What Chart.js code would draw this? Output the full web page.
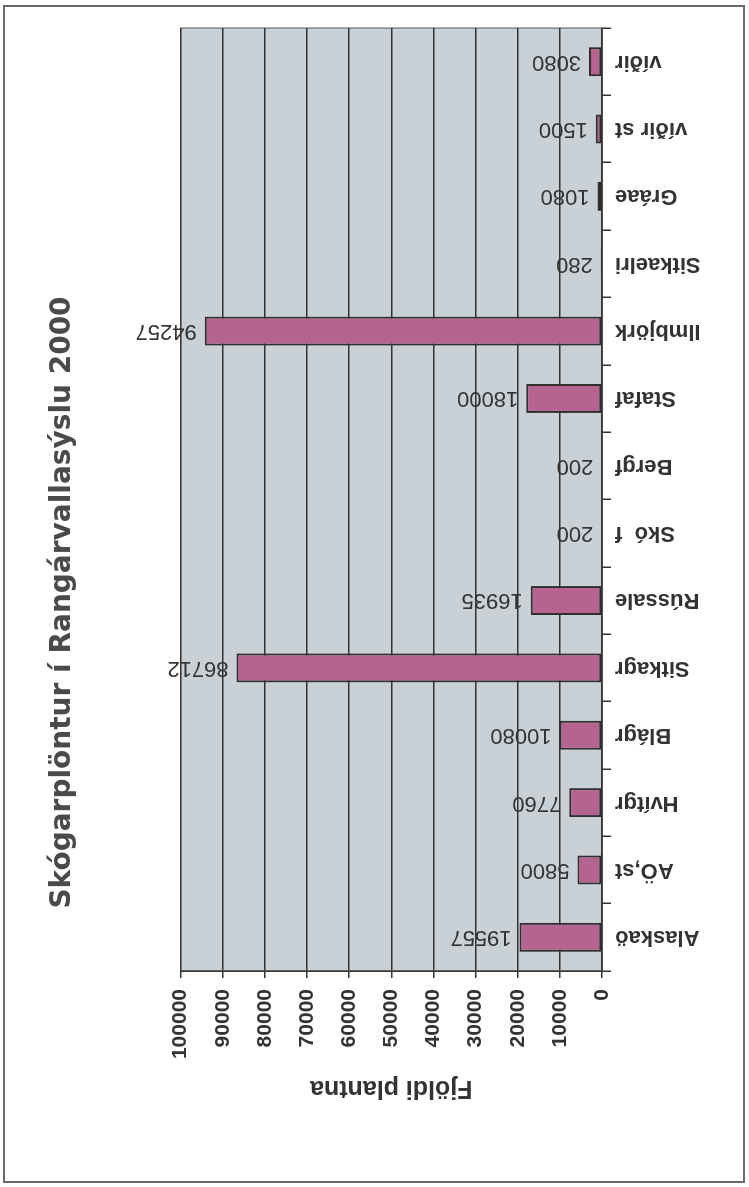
<!DOCTYPE html>
<html>
<head>
<meta charset="utf-8">
<script src="https://cdn.jsdelivr.net/npm/chart.js@4.4.0/dist/chart.umd.min.js"></script>
<style>
html, body { margin: 0; padding: 0; background: #fff; }
body { width: 749px; height: 1187px; position: relative; overflow: hidden; }
#marco { position: absolute; left: 3px; top: 5px; width: 738px; height: 1174px; border: 2px solid #6a6a6a; }
/* el gráfico está girado en la hoja escaneada: se dibuja derecho y se gira -90° */
#grafico { position: absolute; left: 0; top: 0; transform-origin: 0 0; transform: translate(0, 1187px) rotate(-90deg); }
</style>
</head>
<body>
<div id="marco"></div>
<canvas id="grafico" width="1187" height="749"></canvas>
<script>
// Datos
const categorias = ['Alaskaö', 'AÖ,st', 'Hvítgr', 'Blágr', 'Sitkagr', 'Rússale', 'Skó  f', 'Bergf',
                    'Stafaf', 'Ilmbjörk', 'Sitkaelri', 'Gráae', 'víðir st', 'víðir'];
const plantur = [19557, 5800, 7760, 10080, 86712, 16935, 200, 200, 18000, 94257, 280, 1080, 1500, 3080];
const tituloGrafico = 'Skógarplöntur í Rangárvallasýslu 2000';
const tituloEje = 'Fjöldi plantna';
const ejeMin = 0;
const ejeMax = 100000;
const ejePaso = 10000;

const fuente = '"Liberation Sans", Arial, sans-serif';

// Fondo gris del área de trazado
const fondoPlot = {
    id: 'fondoPlot',
    beforeDraw(chart) {
        const { ctx, chartArea: a } = chart;
        ctx.save();
        ctx.fillStyle = '#c9d1d6';
        ctx.fillRect(a.left, a.top, a.right - a.left, a.bottom - a.top);
        ctx.strokeStyle = '#555';
        ctx.lineWidth = 1;
        ctx.strokeRect(a.left, a.top, a.right - a.left, a.bottom - a.top);
        ctx.restore();
    }
};

// Valores encima de cada barra
const etiquetasValor = {
    id: 'etiquetasValor',
    afterDatasetsDraw(chart) {
        const ctx = chart.ctx;
        const meta = chart.getDatasetMeta(0);
        ctx.save();
        ctx.font = '22px ' + fuente;
        ctx.fillStyle = '#333';
        ctx.textAlign = 'left';
        ctx.textBaseline = 'middle';
        meta.data.forEach((barra, i) => {
            ctx.save();
            ctx.translate(barra.x, barra.y - 8);
            ctx.rotate(-Math.PI / 2);
            ctx.fillText(String(plantur[i]), 0, 0);
            ctx.restore();
        });
        ctx.restore();
    }
};

const ctx = document.getElementById('grafico').getContext('2d');
new Chart(ctx, {
    type: 'bar',
    data: {
        labels: categorias,
        datasets: [{
            data: plantur,
            backgroundColor: '#b4648f',
            borderColor: '#2e2e2e',
            borderWidth: 2,
            borderSkipped: false,
            categoryPercentage: 1,
            barPercentage: 0.43
        }]
    },
    options: {
        responsive: false,
        animation: false,
        layout: { padding: { left: 10, right: 28, top: 10, bottom: 10 } },
        plugins: {
            legend: { display: false },
            tooltip: { enabled: false },
            title: {
                display: true,
                text: tituloGrafico,
                color: '#4a4a4a',
                font: { family: '"DejaVu Sans", sans-serif', size: 28, weight: 'bold' },
                padding: { top: 36, bottom: 101 }
            }
        },
        scales: {
            x: {
                grid: { display: true, drawOnChartArea: false, drawTicks: true, tickLength: 9, color: '#333', lineWidth: 1.5 },
                border: { display: true, color: '#333', width: 1.5 },
                ticks: {
                    autoSkip: false,
                    minRotation: 90,
                    maxRotation: 90,
                    padding: 4,
                    color: '#333',
                    font: { family: fuente, size: 22, weight: 'bold' }
                },
                afterFit(escala) { escala.height = 137; }
            },
            y: {
                min: ejeMin,
                max: ejeMax,
                grid: { color: '#333', lineWidth: 1.5, tickLength: 7 },
                border: { display: true, color: '#333', width: 1.5 },
                ticks: {
                    stepSize: ejePaso,
                    padding: 11,
                    color: '#333',
                    font: { family: fuente, size: 21, weight: 'bold' },
                    callback: v => String(v)
                },
                title: {
                    display: true,
                    text: tituloEje,
                    color: '#333',
                    font: { family: fuente, size: 25, weight: 'bold' },
                    padding: { top: 74, bottom: 0 }
                },
                afterFit(escala) { escala.width = 206; }
            }
        }
    },
    plugins: [fondoPlot, etiquetasValor]
});
</script>
</body>
</html>
